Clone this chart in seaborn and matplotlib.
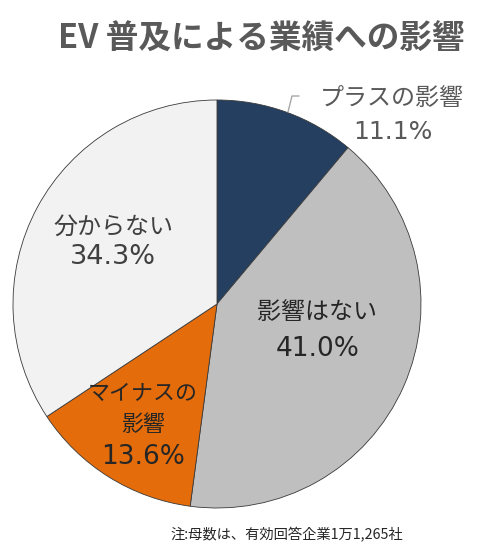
import matplotlib
matplotlib.use("Agg")
import matplotlib.pyplot as plt
import seaborn as sns

categories = ["プラスの影響", "影響はない", "マイナスの影響", "分からない"]
values = [11.1, 41.0, 13.6, 34.3]
colors = ["#243F60", "#BFBFBF", "#E46C0A", "#F2F2F2"]

sns.set_theme(style="white")
plt.rcParams["font.family"] = ["Noto Sans CJK JP", "DejaVu Sans"]

fig = plt.figure(figsize=(4.91, 5.6), dpi=100)
fig.patch.set_facecolor("white")
cx, cy, r = 217, 304, 204
W, H = 491, 560
ax = fig.add_axes([(cx - r) / W, (H - cy - r) / H, 2 * r / W, 2 * r / H])
ax.pie(values, colors=colors, startangle=90, counterclock=False, radius=1,
       wedgeprops=dict(edgecolor="#3A3A3A", linewidth=0.6))
ax.set_xlim(-1, 1)
ax.set_ylim(-1, 1)
ax.set_aspect("equal")
ax.axis("off")

def d(px, py):
    return (px - cx) / r, (cy - py) / r

def lab(px, py, s, size, color, fam=None):
    x, y = d(px, py)
    kw = {}
    if fam:
        kw["family"] = fam
    ax.text(x, y, s, ha="center", va="center", fontsize=size, color=color,
            clip_on=False, **kw)

num = ["DejaVu Sans"]
lab(392, 98, categories[0], 17.3, "#595959")
lab(393, 132, f"{values[0]:.1f}%", 18, "#595959", num)
lab(113, 227, categories[3], 17.3, "#404040")
lab(113, 257, f"{values[3]:.1f}%", 19.5, "#404040", num)
lab(317, 312, categories[1], 17.3, "#262626")
lab(318, 349, f"{values[1]:.1f}%", 19, "#262626", num)
lab(143, 394, "マイナスの", 15.8, "#262626")
lab(143, 425, "影響", 15.8, "#262626")
lab(143, 457, f"{values[2]:.1f}%", 19, "#262626", num)

# leader line
xs, ys = zip(d(288, 112), d(292, 96), d(299, 96))
ax.plot(xs, ys, color="#A6A6A6", lw=1, clip_on=False)

fig.text(261 / W, 1 - 39 / H, "EV 普及による業績への影響", ha="center", va="center",
         fontsize=23.5, fontweight="bold", color="#595959")
fig.text(287 / W, 1 - 535 / H, "注:母数は、有効回答企業1万1,265社", ha="center", va="center",
         fontsize=10.3, color="#262626")

fig.savefig("out.png", dpi=100, facecolor="white")
